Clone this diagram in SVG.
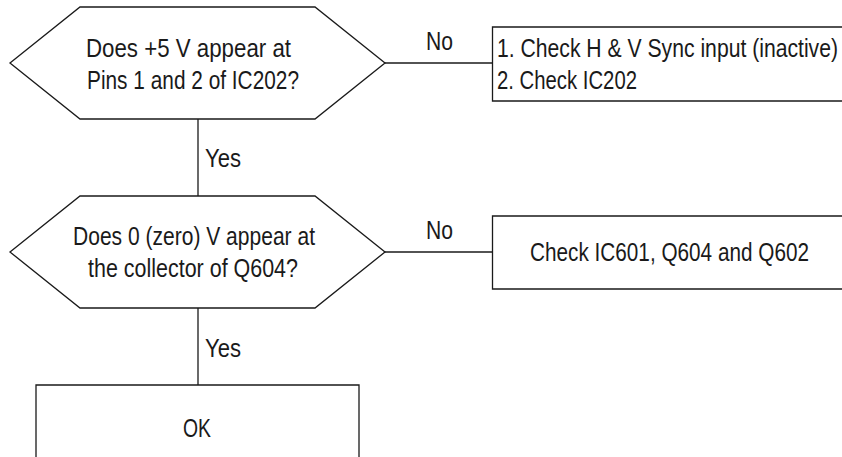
<svg xmlns="http://www.w3.org/2000/svg" width="842" height="457" viewBox="0 0 842 457">
  <style>
    .shape { fill: #ffffff; stroke: #1a1a1a; stroke-width: 1.3; }
    .wire { fill: none; stroke: #1a1a1a; stroke-width: 1.3; }
    text { font-family: "Liberation Sans", Arial, sans-serif; font-size: 25px; fill: #1a1a1a; }
  </style>
  <rect x="0" y="0" width="842" height="457" fill="#ffffff"/>

  <!-- connectors -->
  <g id="connectors">
    <line class="wire" x1="198" y1="119" x2="198" y2="196"/>
    <line class="wire" x1="198" y1="308" x2="198" y2="385"/>
    <line class="wire" x1="385" y1="63" x2="492.5" y2="63"/>
    <line class="wire" x1="385" y1="252" x2="492.5" y2="252"/>
    <text x="205" y="167" textLength="36" lengthAdjust="spacingAndGlyphs">Yes</text>
    <text x="205" y="357" textLength="36" lengthAdjust="spacingAndGlyphs">Yes</text>
    <text x="426" y="50" textLength="27" lengthAdjust="spacingAndGlyphs">No</text>
    <text x="426" y="239" textLength="27" lengthAdjust="spacingAndGlyphs">No</text>
  </g>

  <!-- decision: +5 V at IC202 -->
  <g id="decision-5v">
    <polygon class="shape" points="10,63 80,7 315,7 385,63 315,119 80,119"/>
    <text x="86" y="57" textLength="205" lengthAdjust="spacingAndGlyphs">Does +5 V appear at</text>
    <text x="87" y="89" textLength="212" lengthAdjust="spacingAndGlyphs">Pins 1 and 2 of IC202?</text>
  </g>

  <!-- action: sync input / IC202 (box runs off the right edge) -->
  <g id="action-sync">
    <path class="shape" d="M842,27 H492.5 V101 H842"/>
    <text x="497" y="57" textLength="341" lengthAdjust="spacingAndGlyphs">1. Check H &amp; V Sync input (inactive)</text>
    <text x="497" y="89" textLength="140" lengthAdjust="spacingAndGlyphs">2. Check IC202</text>
  </g>

  <!-- decision: 0 V at Q604 collector -->
  <g id="decision-q604">
    <polygon class="shape" points="10,252 80,196 315,196 385,252 315,308 80,308"/>
    <text x="73" y="245" textLength="242" lengthAdjust="spacingAndGlyphs">Does 0 (zero) V appear at</text>
    <text x="88" y="277" textLength="210" lengthAdjust="spacingAndGlyphs">the collector of Q604?</text>
  </g>

  <!-- action: IC601 / Q604 / Q602 (box runs off the right edge) -->
  <g id="action-ic601">
    <path class="shape" d="M842,216 H492.5 V289 H842"/>
    <text x="530" y="261" textLength="279" lengthAdjust="spacingAndGlyphs">Check IC601, Q604 and Q602</text>
  </g>

  <!-- result: OK (box runs off the bottom edge) -->
  <g id="result-ok">
    <path class="shape" d="M36,457 V385 H359 V457"/>
    <text x="183" y="437" textLength="28" lengthAdjust="spacingAndGlyphs">OK</text>
  </g>
</svg>
